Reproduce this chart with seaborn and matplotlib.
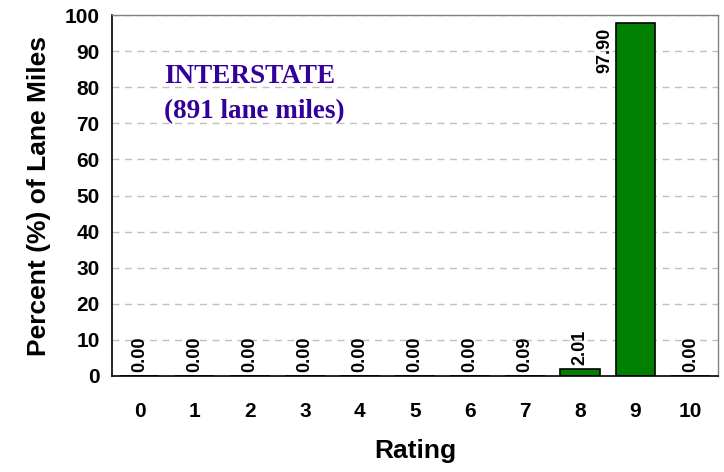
import pandas as pd
import numpy as np
import matplotlib.pyplot as plt
import seaborn as sns

# data
ratings = ['0', '1', '2', '3', '4', '5', '6', '7', '8', '9', '10']
percent = [0.00, 0.00, 0.00, 0.00, 0.00, 0.00, 0.00, 0.09, 2.01, 97.90, 0.00]

df = pd.DataFrame({'Rating': ratings, 'Percent': percent})

sns.set_style('white')
plt.rcParams['font.family'] = ['Liberation Sans', 'DejaVu Sans']
plt.rcParams['text.color'] = 'black'
plt.rcParams['axes.labelcolor'] = 'black'
plt.rcParams['xtick.color'] = 'black'
plt.rcParams['ytick.color'] = 'black'

fig = plt.figure(figsize=(7.24, 4.72), dpi=100)
ax = fig.add_axes([0.1547, 0.2034, 0.837, 0.7646])

sns.barplot(data=df, x='Rating', y='Percent', color='#008000', width=0.72,
            edgecolor='black', linewidth=1.2, saturation=1, ax=ax)

ax.set_ylim(0, 100)
ax.set_xlim(-0.5, 10.5)
ax.set_yticks(np.arange(0, 101, 10))
ax.yaxis.grid(True, linestyle=(0, (5, 4)), color='#c0c0c0', linewidth=1)
ax.set_axisbelow(True)

for s in ['top', 'right']:
    ax.spines[s].set_color('#808080')
    ax.spines[s].set_linewidth(1)
for s in ['left', 'bottom']:
    ax.spines[s].set_color('black')
    ax.spines[s].set_linewidth(1.2)

# x ticks between categories
ax.set_xticks(np.arange(-0.5, 11, 1), minor=False)
ax.set_xticklabels([])
ax.set_xticks(np.arange(0, 11, 1), minor=True)
ax.set_xticklabels(ratings, minor=True, fontsize=15, fontweight='bold')
ax.tick_params(axis='x', which='major', direction='out', length=5, width=1.2, color='black')
ax.tick_params(axis='x', which='minor', length=0, pad=19)
ax.tick_params(axis='y', direction='out', length=5, width=1.2, color='black', labelsize=15, pad=4)
for t in ax.get_yticklabels():
    t.set_fontweight('bold')

ax.set_xlabel('Rating', fontsize=19, fontweight='bold', labelpad=13)
ax.set_ylabel('Percent (%) of Lane Miles', fontsize=19, fontweight='bold', labelpad=10)

# bar labels
for i, v in enumerate(percent):
    if v > 90:
        ax.text(i - 0.56, v - 1.5, f'{v:.2f}', rotation=90, ha='center', va='top',
                fontsize=13, fontweight='bold')
    else:
        ax.text(i, v + 1.1, f'{v:.2f}', rotation=90, ha='center', va='bottom',
                fontsize=13, fontweight='bold')

ax.text(0.45, 86.5, 'INTERSTATE\n(891 lane miles)', fontsize=19.5, fontweight='bold',
        family=['Liberation Serif', 'DejaVu Serif'], color='#330099',
        ha='left', va='top', linespacing=1.55)

plt.savefig('out.png', dpi=100)
